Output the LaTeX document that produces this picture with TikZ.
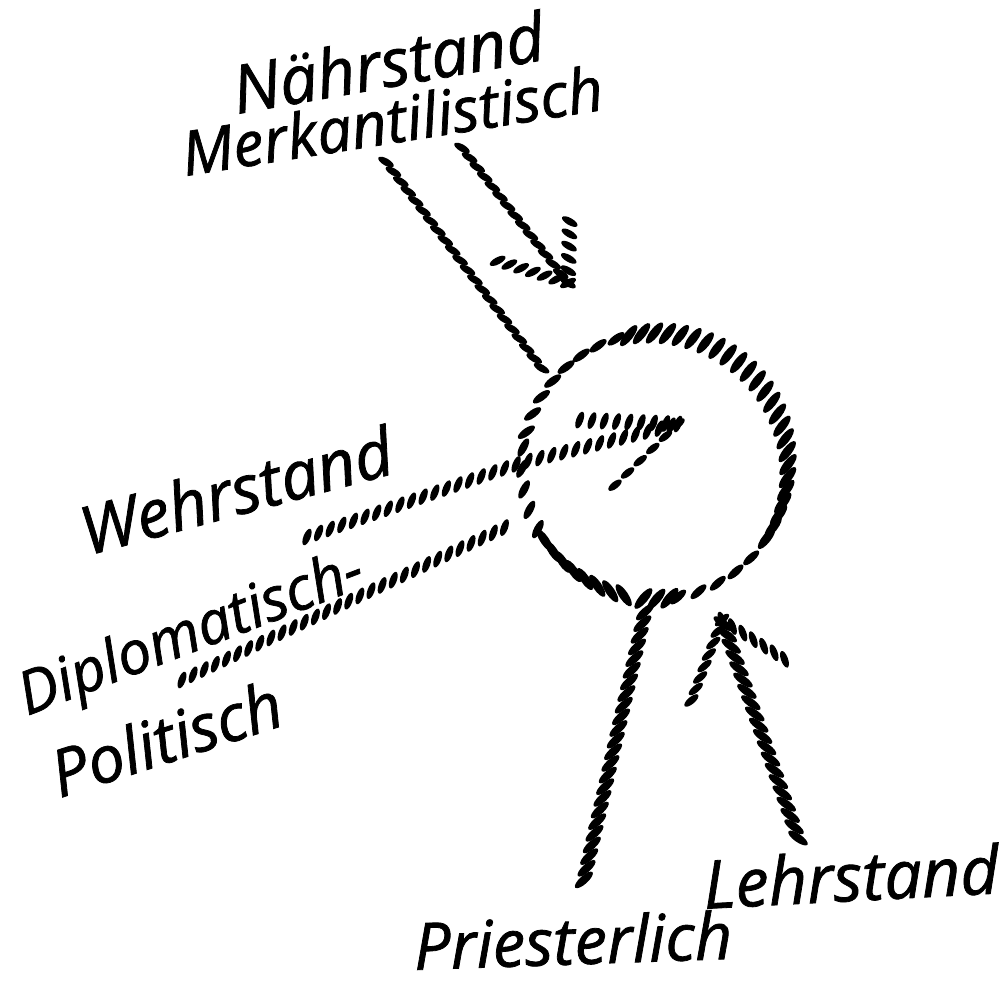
\documentclass[tikz,border=0pt]{standalone}
\usepackage{fontspec}
\usepackage{tikz}
\usetikzlibrary{decorations.markings, positioning}
\newfontfamily\handfont{Open Sans}[ItalicFeatures={FakeBold=1.2}]
\tikzset{
  % short tapered strokes at a fixed angle, laid along the path
  hatchgen/.style n args={4}{decorate, decoration={markings,
      mark=between positions 0 and 1 step #2 with {%
        \pgftransformresetnontranslations
        \fill[rotate=#1] (0,0) ellipse[x radius=#3, y radius=#4];}}},
  hatch/.style={hatchgen={#1}{7pt}{5pt}{2pt}},
  bighatch/.style={hatchgen={#1}{6.8pt}{6.6pt}{2.3pt}},
  sparsehatch/.style={hatchgen={#1}{10pt}{4.6pt}{2pt}},
  ringhatch/.style 2 args={hatchgen={#1}{#2}{7.4pt}{2.5pt}},
  ringdash/.style 2 args={hatchgen={#1}{#2}{5.8pt}{2.2pt}},
  hand/.style={font=\handfont\itshape\fontsize{#1}{#1}\selectfont, inner sep=0pt},
  hand/.default=37,
}

\begin{document}
\begin{tikzpicture}[x=0.02cm, y=0.02cm]

\useasboundingbox (0,0) rectangle (1006,-992);

% ── Kreis ─────────────────────────────────────────────────────────────
\coordinate (ctr) at (655,-466);
\path[ringdash={42}{12pt}]   ([shift={(-80:133)}]ctr) arc[start angle=-80, end angle=-35, radius=133];
\path[ringhatch={52}{7.4pt}] ([shift={(-33:133)}]ctr) arc[start angle=-33, end angle=105, radius=133];
\path[ringdash={36}{11pt}]   ([shift={(107:133)}]ctr) arc[start angle=107, end angle=168, radius=133];
\path[ringdash={62}{12pt}]   ([shift={(172:133)}]ctr) arc[start angle=172, end angle=212, radius=133];
\path[ringhatch={124}{8pt}]  ([shift={(214:133)}]ctr) arc[start angle=214, end angle=262, radius=133];
\path[ringhatch={50}{7.4pt}] ([shift={(265:133)}]ctr) arc[start angle=265, end angle=280, radius=133];

% ── Beschriftungen ────────────────────────────────────────────────────
\node[hand=38, rotate=10] (naehr)  at (388,-62)  {Nährstand};
\node[hand=35, rotate=9]  (merk)   at (392,-120) {Merkantilistisch};
\node[hand=38, rotate=15] (wehr)   at (236,-490) {Wehrstand};
\node[hand=34, rotate=21] (diplo)  at (192,-636) {Diplomatisch-};
\node[hand=37, rotate=18] (polit)  at (166,-738) {Politisch};
\node[hand=37, rotate=2]  (priest) at (573,-940) {Priesterlich};
\node[hand=38, rotate=3]  (lehr)   at (851,-876) {Lehrstand};

% ── Endpunkte der Striche ─────────────────────────────────────────────
\coordinate (topA)     at (386,-162);
\coordinate (topB)     at (546,-374);
\coordinate (topC)     at (462,-148);
\coordinate (topTip)   at (568,-283);
\coordinate (topBarbA) at (570,-212);
\coordinate (topBarbB) at (495,-260);

\coordinate (wehrA)     at (307,-537);
\coordinate (wehrM)     at (520,-463);
\coordinate (wehrTip)   at (678,-424);
\coordinate (wehrBarbA) at (578,-420);
\coordinate (wehrBarbB) at (610,-490);

\coordinate (diploA) at (182,-680);
\coordinate (diploB) at (512,-524);

\coordinate (priA) at (645,-612);
\coordinate (priB) at (582,-888);

\coordinate (lehrA)     at (798,-838);
\coordinate (lehrTip)   at (722,-620);
\coordinate (lehrBarbA) at (687,-712);
\coordinate (lehrBarbB) at (792,-664);

% ── Nährstand: Band und Pfeil von oben ────────────────────────────────
\path[hatch=-30] (topA) -- (topB);
\path[hatch=-30] (topC) -- (topTip);
\path[hatch=-30] (topTip) -- (topBarbA);
\path[hatch=28]  (topTip) -- (topBarbB);

% ── Wehrstand: Pfeil bis in den Kreis ─────────────────────────────────
\path[hatch=68] (wehrA) -- (wehrM) -- (wehrTip);
\path[hatch=70] (wehrTip) -- (wehrBarbA);
\path[sparsehatch=38] (wehrTip) -- (wehrBarbB);

% ── Diplomatisch-Politisch ────────────────────────────────────────────
\path[hatch=70] (diploA) -- (diploB);

% ── Priesterlich ──────────────────────────────────────────────────────
\path[bighatch=42] (priA) -- (priB);

% ── Lehrstand: Pfeil von unten ────────────────────────────────────────
\path[bighatch=-35] (lehrA) -- (lehrTip);
\path[hatch=40]     (lehrTip) -- (lehrBarbA);
\path[hatch=-70]    (lehrTip) -- (lehrBarbB);

\end{tikzpicture}
\end{document}
